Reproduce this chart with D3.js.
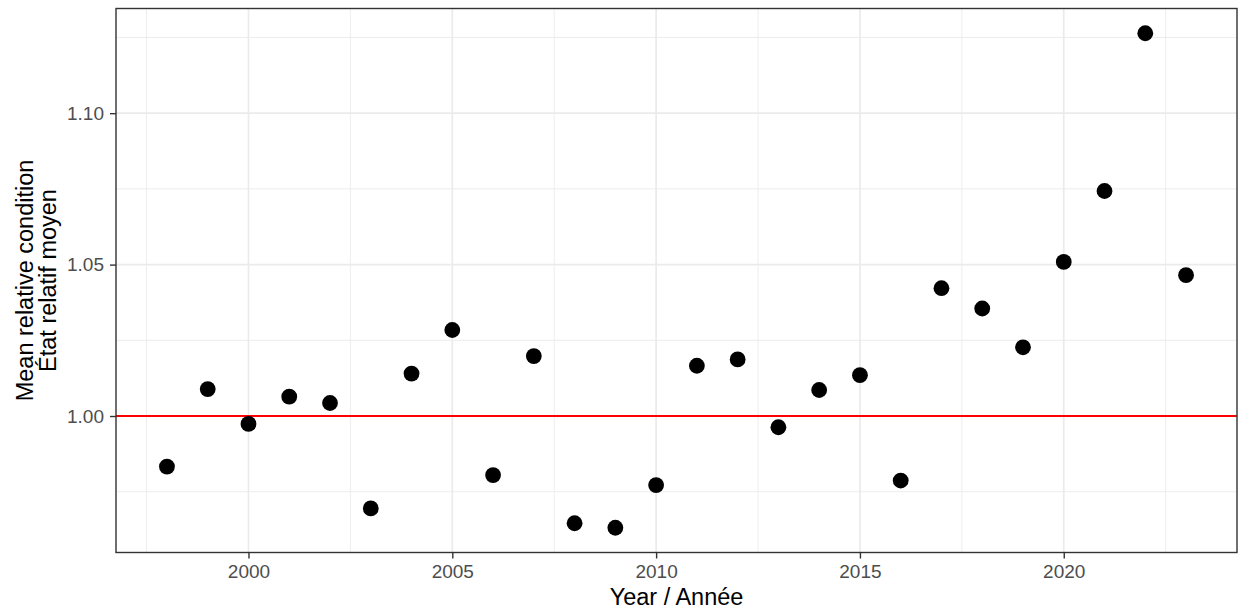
<!DOCTYPE html>
<html>
<head>
<meta charset="utf-8">
<script src="https://cdn.jsdelivr.net/npm/d3@7"></script>
<style>
  html, body { margin: 0; padding: 0; background: #fff; }
  svg { display: block; font-family: "Liberation Sans", Arial, sans-serif; }
</style>
</head>
<body>
<svg id="chart" width="1238" height="609"></svg>
<script>
// Mean relative condition by year
const years = [1998, 1999, 2000, 2001, 2002, 2003, 2004, 2005, 2006, 2007, 2008, 2009, 2010,
               2011, 2012, 2013, 2014, 2015, 2016, 2017, 2018, 2019, 2020, 2021, 2022, 2023];
const condition = [0.9833, 1.0089, 0.9974, 1.0064, 1.0043, 0.9695, 1.0140, 1.0284, 0.9805, 1.0198,
                   0.9646, 0.9631, 0.9772, 1.0166, 1.0187, 0.9963, 1.0086, 1.0135, 0.9787, 1.0422,
                   1.0355, 1.0227, 1.0509, 1.0743, 1.1264, 1.0465];
const xMajorTicks = [2000, 2005, 2010, 2015, 2020];
const xMinorTicks = [1997.5, 2002.5, 2007.5, 2012.5, 2017.5, 2022.5];
const yMajorTicks = [1.00, 1.05, 1.10];
const yMinorTicks = [0.975, 1.025, 1.075, 1.125];
const referenceLevel = 1.0;
const xTitle = "Year / Année";
const yTitleLines = ["Mean relative condition", "État relatif moyen"];

const points = years.map((yr, i) => ({ year: yr, value: condition[i] }));

const svg = d3.select("#chart");
const panel = { left: 116, right: 1237, top: 8.5, bottom: 552.5 };

// Continuous scales with a 5% expansion on each side
function expanded(ext) {
  const pad = (ext[1] - ext[0]) * 0.05;
  return [ext[0] - pad, ext[1] + pad];
}
const x = d3.scaleLinear().domain(expanded(d3.extent(years))).range([panel.left, panel.right]);
const y = d3.scaleLinear().domain(expanded(d3.extent(condition))).range([panel.bottom, panel.top]);

// Panel background
svg.append("rect")
  .attr("x", panel.left).attr("y", panel.top)
  .attr("width", panel.right - panel.left).attr("height", panel.bottom - panel.top)
  .attr("fill", "#fff");

const grid = svg.append("g");
// Minor grid
grid.selectAll(".vminor").data(xMinorTicks).join("line")
  .attr("x1", d => x(d)).attr("x2", d => x(d))
  .attr("y1", panel.top).attr("y2", panel.bottom)
  .attr("stroke", "#EBEBEB").attr("stroke-width", 0.9);
grid.selectAll(".hminor").data(yMinorTicks).join("line")
  .attr("y1", d => y(d)).attr("y2", d => y(d))
  .attr("x1", panel.left).attr("x2", panel.right)
  .attr("stroke", "#EBEBEB").attr("stroke-width", 0.9);
// Major grid
grid.selectAll(".vmajor").data(xMajorTicks).join("line")
  .attr("x1", d => x(d)).attr("x2", d => x(d))
  .attr("y1", panel.top).attr("y2", panel.bottom)
  .attr("stroke", "#EBEBEB").attr("stroke-width", 1.7);
grid.selectAll(".hmajor").data(yMajorTicks).join("line")
  .attr("y1", d => y(d)).attr("y2", d => y(d))
  .attr("x1", panel.left).attr("x2", panel.right)
  .attr("stroke", "#EBEBEB").attr("stroke-width", 1.7);

// Reference line at 1
svg.append("line")
  .attr("x1", panel.left).attr("x2", panel.right)
  .attr("y1", y(referenceLevel)).attr("y2", y(referenceLevel))
  .attr("stroke", "#FF0000").attr("stroke-width", 2);

// Points
svg.append("g").selectAll("circle").data(points).join("circle")
  .attr("cx", d => x(d.year))
  .attr("cy", d => y(d.value))
  .attr("r", 7.9)
  .attr("fill", "#000");

// Panel border
svg.append("rect")
  .attr("x", panel.left).attr("y", panel.top)
  .attr("width", panel.right - panel.left).attr("height", panel.bottom - panel.top)
  .attr("fill", "none").attr("stroke", "#333333").attr("stroke-width", 1.4);

// Axes
const xAxis = d3.axisBottom(x).tickValues(xMajorTicks).tickFormat(d3.format("d"))
  .tickSize(6).tickPadding(6);
const gx = svg.append("g").attr("transform", `translate(0,${panel.bottom})`).call(xAxis);
gx.select(".domain").remove();
gx.selectAll(".tick line").attr("stroke", "#333333").attr("stroke-width", 1.4);
gx.selectAll(".tick text").attr("fill", "#4D4D4D").attr("font-size", 19)
  .attr("font-family", "Liberation Sans, Arial, sans-serif");

const yAxis = d3.axisLeft(y).tickValues(yMajorTicks).tickFormat(d3.format(".2f"))
  .tickSize(6).tickPadding(6);
const gy = svg.append("g").attr("transform", `translate(${panel.left},0)`).call(yAxis);
gy.select(".domain").remove();
gy.selectAll(".tick line").attr("stroke", "#333333").attr("stroke-width", 1.4);
gy.selectAll(".tick text").attr("fill", "#4D4D4D").attr("font-size", 19)
  .attr("font-family", "Liberation Sans, Arial, sans-serif");

// Axis titles
svg.append("text")
  .attr("x", (panel.left + panel.right) / 2).attr("y", 605)
  .attr("text-anchor", "middle").attr("font-size", 23.5).attr("fill", "#000")
  .text(xTitle);

const yTitle = svg.append("text")
  .attr("transform", `translate(33,${(panel.top + panel.bottom) / 2}) rotate(-90)`)
  .attr("text-anchor", "middle").attr("font-size", 23.5).attr("fill", "#000");
yTitle.selectAll("tspan").data(yTitleLines).join("tspan")
  .attr("x", 0).attr("dy", (d, i) => i === 0 ? 0 : 22.5)
  .text(d => d);
</script>
</body>
</html>
